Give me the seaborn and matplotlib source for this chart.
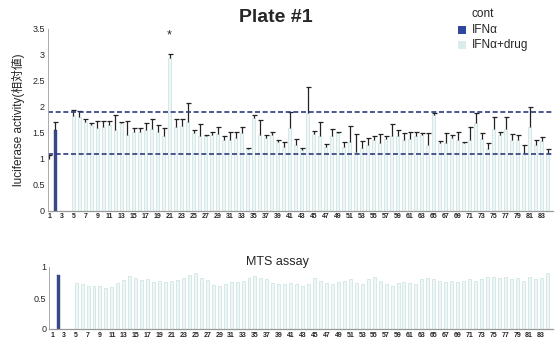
import numpy as np
import pandas as pd
import matplotlib
matplotlib.use("Agg")
import matplotlib.pyplot as plt
import matplotlib.colors as mcolors
import seaborn as sns

# wells 1..84 (3 and 4 empty)
wells = list(range(1, 85))
groups = ["cont", "IFNα", None, None] + ["IFNα+drug"] * 80

nan = np.nan
luc_mean = [1.00, 1.55, nan, nan,
            1.82, 1.81, 1.71, 1.66, 1.59, 1.62, 1.66, 1.55, 1.68, 1.46,
            1.52, 1.52, 1.55, 1.57, 1.52, 1.43, 2.95, 1.62, 1.63, 1.70,
            1.50, 1.44, 1.43, 1.45, 1.47, 1.36, 1.36, 1.40, 1.49, 1.18,
            1.78, 1.46, 1.40, 1.45, 1.33, 1.22, 1.59, 1.27, 1.17, 1.89,
            1.48, 1.43, 1.22, 1.43, 1.49, 1.23, 1.33, 1.14, 1.21, 1.27,
            1.36, 1.30, 1.38, 1.43, 1.43, 1.36, 1.39, 1.43, 1.46, 1.27,
            1.84, 1.31, 1.30, 1.40, 1.36, 1.30, 1.36, 1.68, 1.39, 1.18,
            1.57, 1.46, 1.57, 1.37, 1.36, 1.11, 1.62, 1.27, 1.35, 1.11]
luc_err = [0.08, 0.15, nan, nan,
           0.12, 0.12, 0.06, 0.03, 0.14, 0.11, 0.07, 0.29, 0.03, 0.27,
           0.07, 0.07, 0.14, 0.20, 0.13, 0.16, 0.07, 0.15, 0.14, 0.37,
           0.05, 0.23, 0.03, 0.07, 0.15, 0.07, 0.16, 0.12, 0.12, 0.03,
           0.06, 0.29, 0.06, 0.07, 0.03, 0.11, 0.32, 0.11, 0.04, 0.50,
           0.06, 0.27, 0.07, 0.14, 0.03, 0.10, 0.30, 0.33, 0.13, 0.13,
           0.07, 0.18, 0.06, 0.24, 0.12, 0.13, 0.12, 0.09, 0.03, 0.23,
           0.04, 0.03, 0.20, 0.05, 0.16, 0.03, 0.26, 0.20, 0.10, 0.12,
           0.24, 0.06, 0.24, 0.10, 0.09, 0.16, 0.37, 0.09, 0.07, 0.08]
mts = [nan, 0.87, nan, nan,
       0.74, 0.72, 0.70, 0.70, 0.69, 0.66, 0.67, 0.74, 0.79, 0.86,
       0.83, 0.79, 0.80, 0.76, 0.77, 0.76, 0.77, 0.79, 0.83, 0.87,
       0.91, 0.83, 0.79, 0.71, 0.70, 0.72, 0.76, 0.76, 0.77, 0.82,
       0.86, 0.83, 0.80, 0.74, 0.72, 0.72, 0.74, 0.72, 0.70, 0.72,
       0.82, 0.78, 0.74, 0.72, 0.76, 0.78, 0.80, 0.74, 0.72, 0.80,
       0.84, 0.78, 0.72, 0.70, 0.74, 0.76, 0.74, 0.72, 0.80, 0.82,
       0.80, 0.78, 0.76, 0.78, 0.76, 0.78, 0.80, 0.78, 0.80, 0.84,
       0.84, 0.82, 0.84, 0.80, 0.82, 0.78, 0.84, 0.80, 0.82, 0.90]

star_well = 21
ref_lines = [1.9, 1.1]

palette = {"cont": "#ffffff", "IFNα": "#2b3f93", "IFNα+drug": "#eef7f6"}
legend_colors = {"cont": "#ffffff", "IFNα": "#2f479c", "IFNα+drug": "#d9eeec"}
drug_edge = "#cfe7e5"

df = pd.DataFrame({"well": [str(w) for w in wells],
                   "group": [g if g else "IFNα+drug" for g in groups],
                   "luc": luc_mean, "err": luc_err, "mts": mts})
order = [str(w) for w in wells]

sns.set_style("white")
plt.rcParams["font.family"] = ["Liberation Sans", "Noto Sans CJK JP", "DejaVu Sans"]

fig = plt.figure(figsize=(5.56, 3.46), dpi=100)
ax1 = fig.add_axes([47.5 / 556, 1 - 210.7 / 346, (553 - 47.5) / 556, (210.7 - 29) / 346])
ax2 = fig.add_axes([49.3 / 556, 1 - 329 / 346, (553 - 49.3) / 556, (329 - 267) / 346])


def style_bars(ax):
    drug_rgba = mcolors.to_rgba(palette["IFNα+drug"])
    for patch in ax.patches:
        fc = patch.get_facecolor()
        if np.allclose(fc, drug_rgba, atol=0.01):
            patch.set_edgecolor(drug_edge)
            patch.set_linewidth(0.6)
        else:
            patch.set_edgecolor(fc)
            patch.set_linewidth(0.3)


sns.barplot(data=df, x="well", y="luc", hue="group", order=order, palette=palette,
            dodge=False, width=0.5, errorbar=None, legend=False, ax=ax1)
style_bars(ax1)

# upper-only error bars
xs = np.arange(len(wells))
m = np.array(luc_mean)
e = np.array(luc_err)
ok = ~np.isnan(m)
eb = ax1.errorbar(xs[ok], m[ok], yerr=[np.zeros(ok.sum()), e[ok]], fmt="none",
                  ecolor="#222222", elinewidth=0.9, capsize=1.8, capthick=0.9)
eb[1][0].set_visible(False)

for v in ref_lines:
    ax1.axhline(v, color="#2c3c80", ls=(0, (3, 1.6)), lw=1.2)

si = wells.index(star_well)
ax1.text(xs[si], 3.38, "*", ha="center", va="center", fontsize=9)

ax1.set_ylim(0, 3.5)
ax1.set_xlim(-0.33, 83.9)
ax1.set_yticks(np.arange(0, 3.6, 0.5))
ax1.set_yticklabels(["0", "0.5", "1", "1.5", "2", "2.5", "3", "3.5"], fontsize=6.5)
ax1.set_ylabel("luciferase activity(相対値)", fontsize=8.5, labelpad=5)
ax1.set_xlabel("")

sns.barplot(data=df, x="well", y="mts", hue="group", order=order, palette=palette,
            dodge=False, width=0.5, errorbar=None, legend=False, ax=ax2)
style_bars(ax2)
ax2.set_ylim(0, 1)
ax2.set_xlim(-0.5, 84.0)
ax2.set_yticks([0, 0.5, 1])
ax2.set_yticklabels(["0", "0.5", "1"], fontsize=6.5)
ax2.set_ylabel("")
ax2.set_xlabel("")

for ax in (ax1, ax2):
    ticks = xs[::2]
    ax.set_xticks(ticks)
    ax.set_xticklabels([str(wells[i]) for i in ticks], fontsize=5, fontweight="bold")
    ax.tick_params(axis="both", length=0, pad=2)
    sns.despine(ax=ax)
    ax.spines["left"].set_color("#aaaaaa")
    ax.spines["bottom"].set_color("#999999")
    ax.spines["left"].set_linewidth(0.7)
    ax.spines["bottom"].set_linewidth(0.9)

fig.text(276 / 556, 1 - 17 / 346, "Plate #1", ha="center", va="center",
         fontsize=14, fontweight="bold")
fig.text(277 / 556, 1 - 262 / 346, "MTS assay", ha="center", va="center", fontsize=9)

# legend
leg_y = [14, 30, 45]
for lab, y in zip(["cont", "IFNα", "IFNα+drug"], leg_y):
    fig.patches.append(plt.Rectangle((458 / 556, 1 - (y + 4) / 346), 8 / 556, 8 / 346,
                                     transform=fig.transFigure,
                                     facecolor=legend_colors[lab], edgecolor="none"))
    fig.text(472 / 556, 1 - y / 346, lab, ha="left", va="center", fontsize=8.5)

fig.savefig("out.png", dpi=100)
